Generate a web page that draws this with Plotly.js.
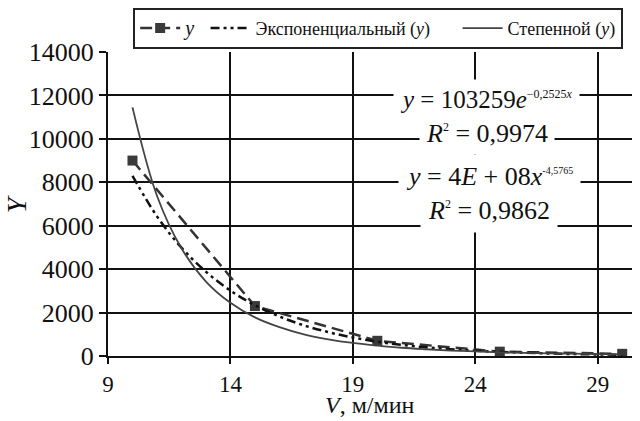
<!DOCTYPE html>
<html>
<head>
<meta charset="utf-8">
<script src="https://cdn.plot.ly/plotly-3.0.1.min.js"></script>
<style>html,body{margin:0;padding:0;background:#fff;}#chart{width:640px;height:421px;}</style>
</head>
<body>
<div id="chart"></div>
<script>
// Observed data points
const speedV = [10, 15, 20, 25, 30];
const valueY = [9000, 2300, 700, 200, 100];

// Trend curves
const trendX = [10, 11, 12, 13, 14, 15, 16, 17, 18, 19, 20, 21, 22, 23, 24, 25, 26, 27, 28, 29, 30];
const expTrendY = [8300, 6430, 4990, 3880, 3010, 2340, 1820, 1410, 1100, 850, 660, 510, 400, 310, 240, 190, 150, 115, 90, 70, 55];
const powTrendY = [11450, 7380, 4960, 3430, 2450, 1780, 1330, 1000, 770, 600, 480, 380, 310, 250, 210, 170, 145, 120, 105, 90, 75];

const xTicks = [9, 14, 19, 24, 29];
const yTicks = [0, 2000, 4000, 6000, 8000, 10000, 12000, 14000];

const serif = '"Liberation Serif", "DejaVu Serif", serif';
const pad = n => '&nbsp;'.repeat(n);

const traces = [
  {
    x: speedV, y: valueY, name: '<span style="font-size:20px"><i>y</i></span>' + pad(1),
    mode: 'lines+markers', type: 'scatter',
    line: {color: '#333', width: 2.5, dash: '12px,6px'},
    marker: {symbol: 'square', size: 10, color: '#3a3a3a'}
  },
  {
    x: trendX, y: expTrendY, name: 'Экспоненциальный (<i>y</i>)' + pad(5),
    mode: 'lines', type: 'scatter',
    line: {color: '#111', width: 2.5, dash: '9px,4px,3px,4px,3px,4px', shape: 'spline'}
  },
  {
    x: trendX, y: powTrendY, name: 'Степенной (<i>y</i>)',
    mode: 'lines', type: 'scatter',
    line: {color: '#444', width: 1.8, shape: 'spline'}
  }
];

const layout = {
  width: 640, height: 421,
  margin: {l: 108, r: 8, t: 47, b: 65},
  paper_bgcolor: '#fff', plot_bgcolor: '#fff',
  font: {family: serif, color: '#111'},
  showlegend: true,
  legend: {
    orientation: 'h', x: 0.048, xanchor: 'left', y: 1.145, yanchor: 'top',
    bordercolor: '#222', borderwidth: 2, bgcolor: '#fff',
    font: {family: serif, size: 18, color: '#111'},
    tracegroupgap: 0, itemwidth: 40
  },
  xaxis: {
    range: [9, 30.4], tickvals: xTicks, ticktext: xTicks.map(String),
    showgrid: true, gridcolor: '#111', gridwidth: 2,
    showline: true, linecolor: '#111', linewidth: 2,
    ticks: 'outside', ticklen: 6, tickwidth: 2, tickcolor: '#111',
    tickfont: {family: serif, size: 23, color: '#111'},
    zeroline: false
  },
  yaxis: {
    range: [0, 14000], tickvals: yTicks, ticktext: yTicks.map(String),
    showgrid: true, gridcolor: '#111', gridwidth: 2,
    showline: true, linecolor: '#111', linewidth: 2,
    ticks: 'outside', ticklen: 7, tickwidth: 2, tickcolor: '#111',
    tickfont: {family: serif, size: 26, color: '#111'},
    zeroline: false
  },
  annotations: [
    {xref: 'paper', yref: 'paper', x: 0.5, y: -0.16, xanchor: 'center', yanchor: 'middle', showarrow: false,
     text: '<i>V</i>, м/мин', font: {family: serif, size: 24, color: '#111'}},
    {xref: 'paper', yref: 'paper', x: -0.175, y: 0.5, xanchor: 'center', yanchor: 'middle', showarrow: false, textangle: -90,
     text: '<i>Y</i>', font: {family: serif, size: 28, color: '#111'}},
    {xref: 'paper', yref: 'paper', x: 0.723, y: 0.845, xanchor: 'center', yanchor: 'middle', showarrow: false, bgcolor: '#fff', borderpad: 6,
     text: '<i>y</i> = 103259<i>e</i><sup><span style="font-size:12px">−0,2525<i>x</i></span></sup>', font: {family: serif, size: 25, color: '#111'}},
    {xref: 'paper', yref: 'paper', x: 0.723, y: 0.732, xanchor: 'center', yanchor: 'middle', showarrow: false, bgcolor: '#fff', borderpad: 6,
     text: '<i>R</i><sup><span style="font-size:12px">2</span></sup> = 0,9974', font: {family: serif, size: 26, color: '#111'}},
    {xref: 'paper', yref: 'paper', x: 0.728, y: 0.589, xanchor: 'center', yanchor: 'middle', showarrow: false, bgcolor: '#fff', borderpad: 7,
     text: '<i>y</i> = 4<i>E</i> + 08<i>x</i><sup><span style="font-size:10px">-4,5765</span></sup>', font: {family: serif, size: 26, color: '#111'}},
    {xref: 'paper', yref: 'paper', x: 0.728, y: 0.48, xanchor: 'center', yanchor: 'middle', showarrow: false, bgcolor: '#fff', borderpad: 7,
     text: '<i>R</i><sup><span style="font-size:12px">2</span></sup> = 0,9862', font: {family: serif, size: 26, color: '#111'}}
  ]
};

Plotly.newPlot('chart', traces, layout, {displayModeBar: false, staticPlot: true});
</script>
</body>
</html>
